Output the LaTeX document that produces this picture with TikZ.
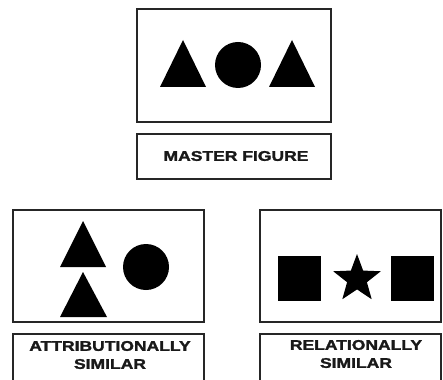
\documentclass[tikz,border=0pt]{standalone}
\usepackage{fontspec}
\setmainfont{Liberation Sans}
\newfontfamily\lblfont[FakeBold=1.6]{Liberation Sans Bold}
\usetikzlibrary{shapes.geometric}
\newcommand{\widetxt}[1]{\scalebox{1.25}[1]{#1}}
\tikzset{
  frame/.style={draw=black!85, line width=1.1pt},
  shp/.style={fill=black, draw=none},
  lbl/.style={font=\lblfont\fontsize{14}{18}\selectfont, align=center, text=black!90, inner sep=0pt}
}
\begin{document}
\begin{tikzpicture}[x=1pt,y=-1pt]
\useasboundingbox (0,0) rectangle (443,379);
% frames
\draw[frame] (137,9) rectangle (331,122);
\draw[frame] (137,134) rectangle (331,179);
\draw[frame] (13,210) rectangle (204,322);
\draw[frame] (13,334) rectangle (204,381);
\draw[frame] (260,210) rectangle (441,322);
\draw[frame] (260,334) rectangle (441,381);
% master figure shapes
\fill[shp] (183,40) -- (206,87) -- (160,87) -- cycle;
\fill[shp] (238,65) circle (23);
\fill[shp] (292,40) -- (315,87) -- (269,87) -- cycle;
% attributionally similar
\fill[shp] (83,221) -- (106,267) -- (60,267) -- cycle;
\fill[shp] (83,272) -- (107,317) -- (60,317) -- cycle;
\fill[shp] (146,267) circle (23);
% relationally similar
\fill[shp] (278,256) rectangle (321,301);
\fill[shp] (391,256) rectangle (434,301);
\node[shp, star, star points=5, star point ratio=2.4, minimum size=50pt, inner sep=0pt] (st) at (357,279) {};
% labels
\node[lbl] (m) at (236,156) {\widetxt{MASTER FIGURE}};
\node[lbl] (a) at (110,355) {\widetxt{ATTRIBUTIONALLY}\\\widetxt{SIMILAR}};
\node[lbl] (r) at (356,354) {\widetxt{RELATIONALLY}\\\widetxt{SIMILAR}};
\end{tikzpicture}
\end{document}
